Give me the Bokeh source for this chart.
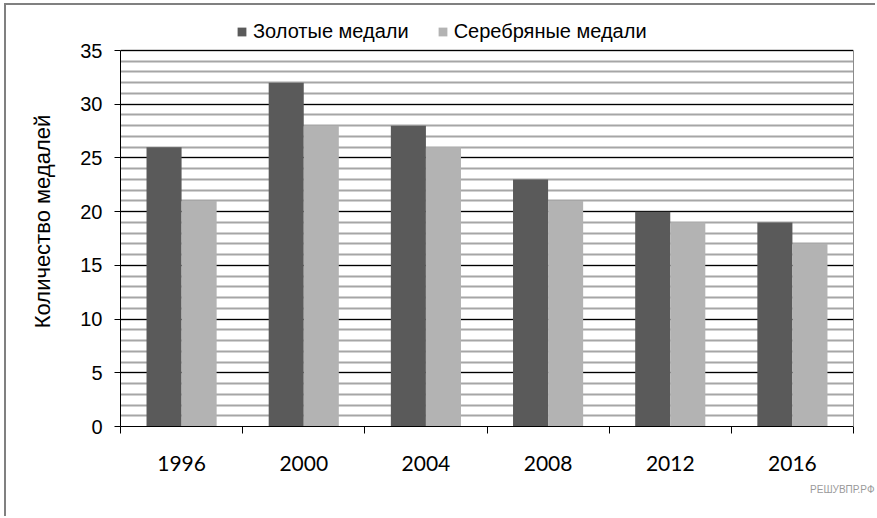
from bokeh.plotting import figure
from bokeh.models import (ColumnDataSource, FixedTicker, Range1d, Legend, LegendItem,
                          LinearAxis, Title)
from bokeh.embed import file_html
from bokeh.resources import INLINE

years = ["1996", "2000", "2004", "2008", "2012", "2016"]
gold = [26, 32, 28, 23, 20, 19]
silver = [21, 28, 26, 21, 19, 17]

bar_w = 0.287
idx = list(range(len(years)))
src = ColumnDataSource(data=dict(
    xg=[i + 0.5 - bar_w / 2 for i in idx],
    xs=[i + 0.5 + bar_w / 2 for i in idx],
    gold=gold,
    silver=silver,
))

# frame reaches above 35 so the legend can sit over the plot area
p = figure(width=871, height=513, output_backend="svg", toolbar_location=None,
           x_range=Range1d(0, len(years)), y_range=Range1d(0, 38.165),
           min_border_left=114, min_border_top=11, min_border_right=24, min_border_bottom=92)
p.styles = {"margin-left": "4px", "margin-top": "3px",
            "border-left": "2px solid #808080", "border-top": "2px solid #808080"}
p.outline_line_color = None

# grid: black every 5, grey every 1
p.xgrid.visible = False
p.ygrid.ticker = FixedTicker(ticks=list(range(0, 36, 5)), minor_ticks=list(range(0, 36)))
p.ygrid.grid_line_color = "black"
p.ygrid.grid_line_width = 1
p.ygrid.minor_grid_line_color = "#a6a6a6"
p.ygrid.minor_grid_line_width = 2

gb = p.vbar(x="xg", top="gold", width=bar_w, source=src, fill_color="#5a5a5a", line_color=None)
sb = p.vbar(x="xs", top="silver", width=bar_w, source=src, fill_color="#b3b3b3", line_color=None)

# y axis
p.yaxis.bounds = (0, 35)
p.yaxis.ticker = FixedTicker(ticks=list(range(0, 36, 5)))
p.yaxis.minor_tick_line_color = None
p.yaxis.major_tick_in = 0
p.yaxis.major_tick_out = 6
p.yaxis.major_label_standoff = 12
p.yaxis.major_label_text_font = "Liberation Sans"
p.yaxis.major_label_text_font_size = "20px"
p.yaxis.major_label_text_color = "black"
p.yaxis.axis_line_color = "black"
p.yaxis.major_tick_line_color = "black"
p.yaxis.axis_label = "Количество медалей"
p.yaxis.axis_label_text_font = "Liberation Sans"
p.yaxis.axis_label_text_font_size = "22px"
p.yaxis.axis_label_text_font_style = "normal"
p.yaxis.axis_label_text_color = "black"
p.yaxis.axis_label_standoff = 22

# right border of the plot area
right = LinearAxis(bounds=(0, 35), ticker=FixedTicker(ticks=[]), axis_line_color="#8c8c8c",
                   major_tick_line_color=None, minor_tick_line_color=None)
p.add_layout(right, "right")

# x axis: labels at centres, ticks at boundaries
p.xaxis.ticker = FixedTicker(ticks=[i + 0.5 for i in idx], minor_ticks=list(range(len(years) + 1)))
p.xaxis.major_label_overrides = {i + 0.5: y for i, y in zip(idx, years)}
p.xaxis.major_tick_line_color = None
p.xaxis.minor_tick_in = 0
p.xaxis.minor_tick_out = 7
p.xaxis.minor_tick_line_color = "black"
p.xaxis.axis_line_color = "black"
p.xaxis.major_label_standoff = 22
p.xaxis.major_label_text_font = "Lato"
p.xaxis.major_label_text_font_size = "21px"
p.xaxis.major_label_text_color = "black"

legend = Legend(items=[LegendItem(label="Золотые медали", renderers=[gb]),
                       LegendItem(label="Серебряные медали", renderers=[sb])],
                orientation="horizontal", location=(116, 383))
legend.border_line_color = None
legend.background_fill_alpha = 0
legend.padding = 0
legend.margin = 0
legend.spacing = 28
legend.glyph_width = 11
legend.glyph_height = 11
legend.label_standoff = 6
legend.label_height = 20
legend.label_text_font = "Liberation Sans"
legend.label_text_font_size = "20px"
legend.label_text_color = "black"
p.add_layout(legend, "center")

mark = Title(text="РЕШУВПР.РФ", align="right", offset=-21, standoff=17,
             text_font="Liberation Sans", text_font_size="10px", text_color="#9a9a9a",
             text_font_style="normal")
p.add_layout(mark, "below")

open("out.html", "w").write(file_html(p, INLINE))
